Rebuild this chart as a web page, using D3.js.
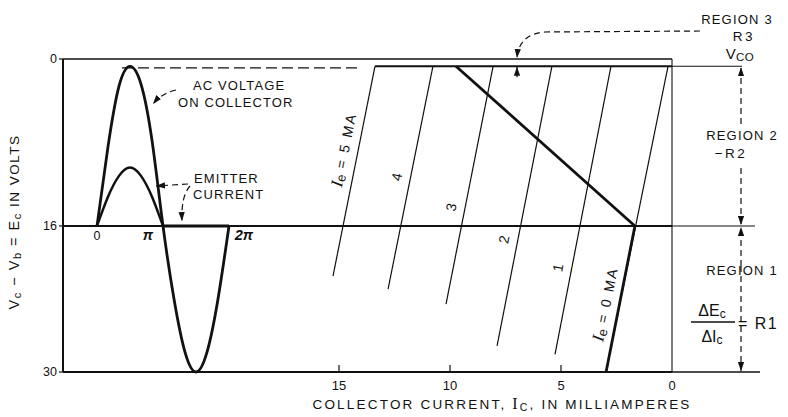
<!DOCTYPE html>
<html><head><meta charset="utf-8">
<script src="https://cdn.jsdelivr.net/npm/d3@7"></script>
<style>
body{margin:0;background:#fff}
svg{display:block}
text{font-family:"Liberation Sans",Arial,sans-serif;fill:#111}
</style></head><body>
<svg id="c" width="788" height="417"></svg>
<script>
// ---------- data ----------
const voltageTicks = [0, 16, 30];
const currentTicks = [15, 10, 5, 0];
const phaseTicks = [0, 1, 2];                 // in units of π
const phaseLabels = ["0", "π", "2π"];
const vco = 0.7;                              // saturation voltage V_co
const biasVolts = 16;
const emitterCurrents = [5, 4, 3, 2, 1, 0];   // mA
const curveTopIc = [13.38, 10.77, 8.06, 5.41, 2.75, 0.18];
const curveBottomIc = [15.27, 12.79, 10.18, 7.88, 5.27, 2.97];
const curveBottomV = [20.8, 22.05, 23.5, 27.5, 28.3, 30];
const curveLabelV = [8.7, 11.3, 14.2, 17.3, 20.0, 23.5];
const loadLineIc = [9.73, 1.67];
const loadLineV = [0.7, 16];
const acPhase = [0, 0.1667, 0.3333, 0.5, 0.6667, 0.8333, 1, 1.1667, 1.3333, 1.5, 1.6667, 1.8333, 2];
const acVolts = [16, 8.4, 2.6, 0.7, 2.4, 7.8, 16, 23, 28.1, 30, 28.1, 23, 16];
const emPhase = [0, 0.1667, 0.3333, 0.5, 0.6667, 0.8333, 1, 2];
const emVolts = [16, 13.2, 11.2, 10.4, 11.2, 13.2, 16, 16];

// ---------- scales ----------
const svg = d3.select("#c");
const y = d3.scaleLinear().domain([0, 30]).range([59, 372]);
const x = d3.scaleLinear().domain([0, 15]).range([672, 339]);
const ph = d3.scaleLinear().domain([0, 2]).range([97, 229]);
const left = 63, right = 672;
const ink = "#111";

// arrowhead marker
const defs = svg.append("defs");
defs.append("marker").attr("id", "ah").attr("viewBox", "0 0 10 10")
  .attr("refX", 10).attr("refY", 5).attr("markerWidth", 9).attr("markerHeight", 9)
  .attr("markerUnits", "userSpaceOnUse").attr("orient", "auto")
  .append("path").attr("d", "M0,1.5 L10,5 L0,8.5 Z").attr("fill", ink);

// ---------- frame ----------
const g = svg.append("g").attr("stroke", ink).attr("fill", "none");
g.append("line").attr("x1", left).attr("x2", right).attr("y1", y(0)).attr("y2", y(0)).attr("stroke-width", 1.6);
g.append("line").attr("x1", left).attr("x2", right).attr("y1", y(30)).attr("y2", y(30)).attr("stroke-width", 2);
g.append("line").attr("x1", right).attr("x2", 760).attr("y1", y(30)).attr("y2", y(30)).attr("stroke-width", 1.3);
g.append("line").attr("x1", left).attr("x2", left).attr("y1", y(0)).attr("y2", y(30)).attr("stroke-width", 2);
g.append("line").attr("x1", right).attr("x2", right).attr("y1", y(0)).attr("y2", y(30)).attr("stroke-width", 1.1);
// bias line at 16 V
g.append("line").attr("x1", left).attr("x2", right).attr("y1", y(biasVolts)).attr("y2", y(biasVolts)).attr("stroke-width", 2);
g.append("line").attr("x1", right).attr("x2", 755).attr("y1", y(biasVolts)).attr("y2", y(biasVolts)).attr("stroke-width", 1.1);
// V_co line
g.append("line").attr("x1", x(curveTopIc[0])).attr("x2", right).attr("y1", y(vco)).attr("y2", y(vco)).attr("stroke-width", 2);
g.append("line").attr("x1", right).attr("x2", 742).attr("y1", y(vco)).attr("y2", y(vco)).attr("stroke-width", 1.1);
g.append("line").attr("x1", 122).attr("x2", x(curveTopIc[0]) - 16).attr("y1", y(vco) + 1.5).attr("y2", y(vco) + 1.5)
  .attr("stroke-width", 1.3).attr("stroke-dasharray", "11,5");

// left axis ticks and labels
voltageTicks.forEach(v => {
  g.append("line").attr("x1", left - 4).attr("x2", left).attr("y1", y(v)).attr("y2", y(v)).attr("stroke-width", 1.2);
  svg.append("text").attr("x", left - 6).attr("y", y(v)).attr("dy", "0.35em").attr("text-anchor", "end")
    .attr("font-size", 12.5).text(v);
});
// bottom axis ticks and labels
currentTicks.forEach(c => {
  if (c > 0) g.append("line").attr("x1", x(c)).attr("x2", x(c)).attr("y1", y(30) - 7).attr("y2", y(30)).attr("stroke-width", 1.2);
  svg.append("text").attr("x", x(c)).attr("y", 390).attr("text-anchor", "middle").attr("font-size", 13).text(c);
});
// phase labels
phaseTicks.forEach((p, i) => {
  const t = svg.append("text").attr("x", ph(p) + (i === 0 ? 0 : (i === 1 ? -15 : 15))).attr("y", 240)
    .attr("text-anchor", "middle").attr("font-size", i === 0 ? 12.5 : 14.5);
  if (i > 0) t.attr("font-family", "Liberation Serif, serif").attr("font-style", "italic").attr("font-weight", "bold");
  t.text(phaseLabels[i]);
});

// ---------- waveforms ----------
const wave = d3.line().x(d => ph(d[0])).y(d => y(d[1])).curve(d3.curveNatural);
svg.append("path").datum(acPhase.map((p, i) => [p, acVolts[i]])).attr("d", wave)
  .attr("fill", "none").attr("stroke", ink).attr("stroke-width", 2.8);
svg.append("path").datum(emPhase.slice(0, 7).map((p, i) => [p, emVolts[i]])).attr("d", wave)
  .attr("fill", "none").attr("stroke", ink).attr("stroke-width", 2.5);
svg.append("line").attr("x1", ph(emPhase[6])).attr("x2", ph(emPhase[7])).attr("y1", y(emVolts[6])).attr("y2", y(emVolts[7]))
  .attr("stroke", ink).attr("stroke-width", 3);

// ---------- collector characteristics ----------
emitterCurrents.forEach((ie, i) => {
  const x1 = x(curveTopIc[i]), y1 = y(vco), x2 = x(curveBottomIc[i]), y2 = y(curveBottomV[i]);
  svg.append("line").attr("x1", x1).attr("y1", y1).attr("x2", x2).attr("y2", y2)
    .attr("stroke", ink).attr("stroke-width", 1.2);
  // label
  const lv = curveLabelV[i];
  const t = (lv - vco) / (curveBottomV[i] - vco);
  const lx = x1 + (x2 - x1) * t, ly = y(lv);
  const ang = Math.atan2(y1 - y2, x1 - x2) * 180 / Math.PI; // upward direction
  const txt = svg.append("text").attr("transform", `translate(${lx - 14},${ly}) rotate(${ang})`)
    .attr("text-anchor", "middle").attr("dy", "0.35em").attr("font-size", 14);
  if (i === 0 || i === emitterCurrents.length - 1) {
    txt.append("tspan").attr("font-family", "Liberation Serif, serif").attr("font-style", "italic").attr("font-size", 17).text("I");
    txt.append("tspan").attr("font-size", 13).attr("dy", "2").text("e");
    txt.append("tspan").attr("dy", "-2").attr("letter-spacing", 2).text(" = " + ie + " MA");
  } else {
    txt.text(ie);
  }
});
// thick lower part of Ie = 0 curve (from knee on bias line)
const last = emitterCurrents.length - 1;
svg.append("line").attr("x1", x(loadLineIc[1])).attr("y1", y(loadLineV[1]))
  .attr("x2", x(curveBottomIc[last])).attr("y2", y(curveBottomV[last]))
  .attr("stroke", ink).attr("stroke-width", 2.8);
// load line
svg.append("line").attr("x1", x(loadLineIc[0])).attr("y1", y(loadLineV[0]))
  .attr("x2", x(loadLineIc[1])).attr("y2", y(loadLineV[1]))
  .attr("stroke", ink).attr("stroke-width", 2.8);

// ---------- annotations ----------
const dash = { "stroke": ink, "fill": "none", "stroke-width": 1.2, "stroke-dasharray": "6,4" };
function dpath(d, arrow) {
  const p = svg.append("path").attr("d", d);
  Object.entries(dash).forEach(([k, v]) => p.attr(k, v));
  if (arrow) p.attr("marker-end", "url(#ah)");
  return p;
}
function label(txt, xx, yy, size, anchor, ls) {
  return svg.append("text").attr("x", xx).attr("y", yy).attr("font-size", size || 12.5)
    .attr("text-anchor", anchor || "start").attr("letter-spacing", ls == null ? 1 : ls).text(txt);
}
label("AC VOLTAGE", 193, 90, 13, "start", 1.1);
label("ON COLLECTOR", 178, 107, 13, "start", 1.1);
dpath("M176,90 Q162,93 153,104", true);
label("EMITTER", 194, 183, 13, "start", 1.1);
label("CURRENT", 193, 199, 13, "start", 1.1);
dpath("M188,184 L156,186", true);
dpath("M190,186 Q181,196 182,221", true);

// right side region annotations
label("REGION 3", 737, 24, 13, "middle", 1.2);
label("R3", 744, 41, 13.5, "middle", 2.5);
const vt = svg.append("text").attr("x", 740).attr("y", 59).attr("text-anchor", "middle").attr("font-size", 15);
vt.append("tspan").text("V");
vt.append("tspan").attr("font-size", 11.5).attr("dy", 2).attr("letter-spacing", 0.5).text("CO");
dpath("M700,31 L545,32 Q519,34 517," + (y(0) - 1), true);
svg.append("line").attr("x1", 517).attr("x2", 517).attr("y1", y(vco) + 11).attr("y2", y(vco) + 0.5)
  .attr("stroke", ink).attr("stroke-width", 1.2).attr("marker-end", "url(#ah)");

label("REGION 2", 742, 140, 13, "middle", 1.2);
label("−R2", 731, 158, 13.5, "middle", 2.5);
dpath(`M741,124 L741,${y(vco) + 1}`, true);
dpath(`M741,168 L741,${y(biasVolts) - 1}`, true);
label("REGION 1", 742, 275, 13, "middle", 1.2);
dpath(`M741,${y(biasVolts) + 40} L741,${y(biasVolts) + 1}`, true);
dpath(`M741,${y(biasVolts) + 40} L741,${y(30) - 1}`, true);
const fe = svg.append("text").attr("x", 712).attr("y", 316).attr("text-anchor", "middle").attr("font-size", 16);
fe.append("tspan").text("ΔE");
fe.append("tspan").attr("font-size", 12).attr("dy", 2).text("c");
svg.append("line").attr("x1", 691).attr("x2", 735).attr("y1", 322).attr("y2", 322).attr("stroke", ink).attr("stroke-width", 1.5);
const fi = svg.append("text").attr("x", 712).attr("y", 342).attr("text-anchor", "middle").attr("font-size", 16);
fi.append("tspan").text("ΔI");
fi.append("tspan").attr("font-size", 12).attr("dy", 2).text("c");
svg.append("text").attr("x", 738).attr("y", 329).attr("font-size", 16).attr("letter-spacing", 1.5).text("= R1");

// axis titles
const xt = svg.append("text").attr("x", 502).attr("y", 409).attr("text-anchor", "middle")
  .attr("font-size", 13.5).attr("letter-spacing", 2.2);
xt.append("tspan").text("COLLECTOR CURRENT, ");
xt.append("tspan").attr("font-family", "Liberation Serif, serif").attr("font-size", 16).text("I");
xt.append("tspan").attr("font-size", 10.5).attr("dy", 2).text("C");
xt.append("tspan").attr("dy", -2).text(", IN MILLIAMPERES");

const yt = svg.append("text").attr("transform", "translate(19,222) rotate(-90)").attr("text-anchor", "middle")
  .attr("font-size", 14.5).attr("letter-spacing", 1.5);
yt.append("tspan").text("V");
yt.append("tspan").attr("font-size", 11).attr("dy", 2).text("c");
yt.append("tspan").attr("dy", -2).text(" − V");
yt.append("tspan").attr("font-size", 11).attr("dy", 2).text("b");
yt.append("tspan").attr("dy", -2).text(" = E");
yt.append("tspan").attr("font-size", 11).attr("dy", 2).text("c");
yt.append("tspan").attr("dy", -2).attr("font-size", 13.5).text(" IN VOLTS");
</script></body></html>
